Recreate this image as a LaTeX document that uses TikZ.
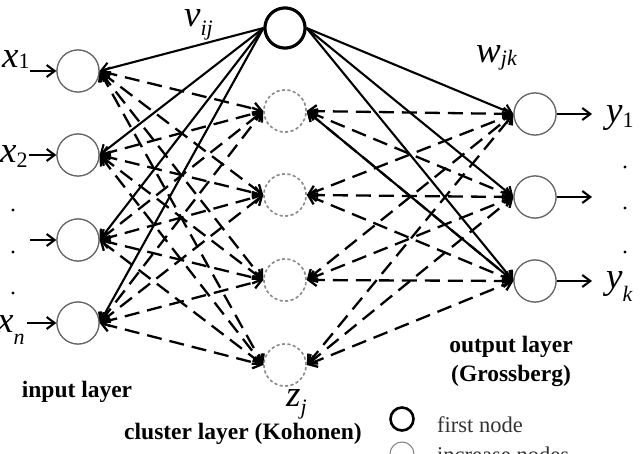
\documentclass[tikz,border=0pt]{standalone}
\usepackage{fontspec}
\setmainfont{Liberation Serif}
\usetikzlibrary{arrows.meta}
\newcommand{\mv}[3]{{\fontsize{37}{37}\selectfont\itshape #1}\raisebox{-#3}{\fontsize{22}{22}\selectfont #2}}
\begin{document}
\begin{tikzpicture}[x=1pt,y=-1pt,
  neuron/.style={circle,draw=black!60,line width=1.2pt,minimum size=42pt,inner sep=0pt,fill=white},
  firstnode/.style={circle,draw=black,line width=3pt,minimum size=40pt,inner sep=0pt,fill=white},
  clnode/.style={circle,draw=black!45,line width=1.5pt,dash pattern=on 3pt off 2.5pt,minimum size=42pt,inner sep=0pt,fill=white},
  tip/.tip={Straight Barb[length=8pt,width=12pt]},
  solidc/.style={line width=2.1pt,-tip},
  dashc/.style={line width=2.3pt,dash pattern=on 15pt off 8pt,tip-tip},
  lbl/.style={font=\fontsize{23.5}{26}\selectfont\bfseries,inner sep=0pt},
  leg/.style={font=\fontsize{22.5}{26}\selectfont,inner sep=0pt,anchor=base west,text=black!80},
  mlab/.style={inner sep=0pt,anchor=base west},
  dotn/.style={circle,fill=black,inner sep=0pt,minimum size=3.2pt}]
\useasboundingbox (0,0) rectangle (644,454);
\clip (0,0) rectangle (644,454);
% nodes
\node[neuron] (x1) at (78,71) {};
\node[neuron] (x2) at (78,155) {};
\node[neuron] (x3) at (78,240) {};
\node[neuron] (xn) at (78,323) {};
\node[firstnode] (top) at (285,28) {};
\node[clnode] (c1) at (285,111) {};
\node[clnode] (c2) at (285,195) {};
\node[clnode] (c3) at (285,280) {};
\node[clnode] (c4) at (285,365) {};
\node[neuron] (o1) at (535,114) {};
\node[neuron] (o2) at (535,197) {};
\node[neuron] (o3) at (535,281) {};
% dashed connections
\foreach \i in {x1,x2,x3,xn}
  \foreach \j in {c1,c2,c3,c4}
    \draw[dashc] (\i.east) -- (\j.west);
\foreach \j in {c1,c2,c3,c4}
  \foreach \k in {o1,o2,o3}
    \draw[dashc] (\j.east) -- (\k.west);
% solid connections
\foreach \i in {x1,x2,x3,xn}
  \draw[solidc] (top.west) -- (\i.east);
\foreach \k in {o1,o2,o3}
  \draw[solidc] (top.east) -- (\k.west);
\draw[solidc] (o3.west) -- (c1.east);
% redraw nodes on top
\node[neuron] at (x1) {};
\node[neuron] at (x2) {};
\node[neuron] at (x3) {};
\node[neuron] at (xn) {};
\node[firstnode] at (top) {};
\node[clnode] at (c1) {};
\node[clnode] at (c2) {};
\node[clnode] at (c3) {};
\node[clnode] at (c4) {};
\node[neuron] at (o1) {};
\node[neuron] at (o2) {};
\node[neuron] at (o3) {};
% input / output arrows
\coordinate (in1) at (30,71);
\coordinate (in2) at (29,155);
\coordinate (in3) at (30,240);
\coordinate (in4) at (27,323);
\draw[solidc] (in1) -- (x1.west);
\draw[solidc] (in2) -- (x2.west);
\draw[solidc] (in3) -- (x3.west);
\draw[solidc] (in4) -- (xn.west);
\coordinate (out1) at (592,114);
\coordinate (out2) at (592,197);
\coordinate (out3) at (592,281);
\draw[solidc] (o1.east) -- (out1);
\draw[solidc] (o2.east) -- (out2);
\draw[solidc] (o3.east) -- (out3);
% math labels
\node[mlab] (lx1) at (2,68) {\mv{x}{1}{1pt}};
\node[mlab] (lx2) at (0,163) {\mv{x}{2}{5pt}};
\node[mlab] (lxn) at (-3,332) {\mv{x}{\itshape n}{12pt}};
\node[mlab] (lv) at (184,27) {\mv{v}{\itshape ij}{9pt}};
\node[mlab] (lw) at (476,63) {\mv{w}{\itshape jk}{3pt}};
\node[mlab] (ly1) at (606,123) {\mv{y}{1}{5pt}};
\node[mlab] (lyk) at (606,288) {\mv{y}{\itshape k}{13pt}};
\node[mlab] (lz) at (286,406) {\mv{z}{\itshape j}{8pt}};
% dots
\node[dotn] (d1) at (13,210) {};
\node[dotn] (d2) at (13,252) {};
\node[dotn] (d3) at (13,293) {};
\node[dotn] (d4) at (625,167) {};
\node[dotn] (d5) at (625,208) {};
\node[dotn] (d6) at (625,252) {};
% layer labels
\node[lbl] (tin) at (77,392) {input layer};
\node[lbl] (tcl) at (243,434) {cluster layer (Kohonen)};
\node[lbl] (tout) at (511,347) {output layer};
\node[lbl] (tgr) at (511,376) {(Grossberg)};
% legend
\node[circle,draw=black,line width=2.6pt,minimum size=23pt,inner sep=0pt] (lg1) at (402,419) {};
\node[leg] (lt1) at (437,432) {first node};
\node[circle,draw=black!50,line width=1pt,minimum size=24pt,inner sep=0pt] (lg2) at (402,454) {};
\node[leg] (lt2) at (437,462) {increase nodes};
\end{tikzpicture}
\end{document}
